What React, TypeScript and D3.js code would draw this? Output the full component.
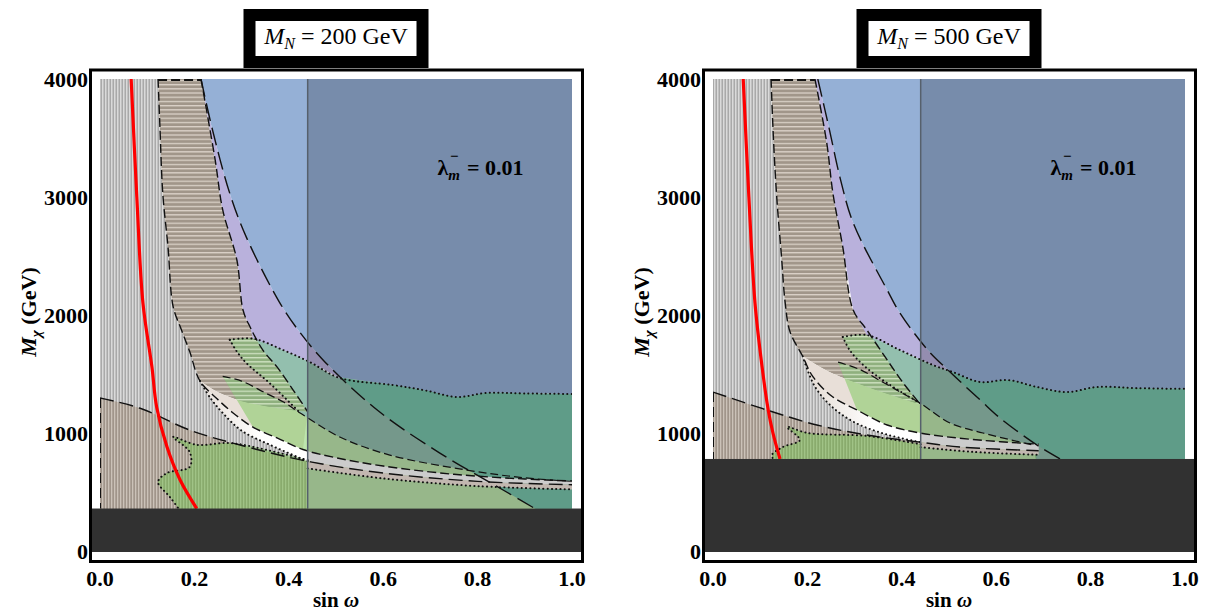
import React from 'react';
import * as d3 from 'd3';

type Pt = [number, number];

const X_TICKS = [0, 0.2, 0.4, 0.6, 0.8, 1.0];
const Y_TICKS = [0, 1000, 2000, 3000, 4000];
const MN_VALUES = ['200', '500'];
const LAMBDA_VALUE = '0.01';
const SIN_CUT = 0.44;
const DARK_TOP = [360, 780];

// ---------- M_N = 200 GeV ----------
const RED_200: Pt[] = [[0.066, 4000], [0.078, 3000], [0.091, 2100], [0.11, 1560], [0.12, 1220], [0.142, 881], [0.17, 600], [0.205, 360]];
const C1_200: Pt[] = [[0.123, 4000], [0.127, 3590], [0.133, 3030], [0.144, 2580], [0.155, 2070], [0.172, 1880], [0.19, 1690], [0.212, 1440], [0.248, 1290], [0.282, 1170], [0.324, 1050], [0.375, 958], [0.43, 860], [0.5, 790], [0.6, 720], [0.75, 650], [0.9, 610], [1.02, 590]];
const C2_200: Pt[] = [[0.214, 4000], [0.244, 3314], [0.26, 2890], [0.29, 2466], [0.303, 2042], [0.318, 1898], [0.345, 1703], [0.375, 1560], [0.41, 1360], [0.44, 1180]];
const TB_200: Pt[] = [[0.212, 1440], [0.25, 1345], [0.3, 1270], [0.37, 1215], [0.44, 1180]];
const L_200: Pt[] = [[0.214, 4000], [0.237, 3590], [0.275, 3030], [0.31, 2660], [0.38, 2110], [0.424, 1850], [0.477, 1600], [0.59, 1186], [0.72, 830], [0.854, 517], [0.93, 340]];
const DT_200: Pt[] = [[0.275, 1790], [0.324, 1800], [0.388, 1703], [0.445, 1600], [0.508, 1466], [0.62, 1407], [0.69, 1360], [0.756, 1305], [0.82, 1340], [0.9, 1335], [1.02, 1330]];
const GL_200: Pt[] = [[0.275, 1790], [0.29, 1690], [0.31, 1593], [0.36, 1420], [0.424, 1170]];
const S_200: Pt[] = [[0.26, 1480], [0.3, 1440], [0.35, 1340], [0.39, 1260], [0.424, 1170], [0.508, 966], [0.614, 813], [0.777, 686], [0.9, 620], [1.02, 585]];
const D_200: Pt[] = [[0, 1297], [0.085, 1210], [0.19, 1025], [0.297, 898], [0.44, 760], [0.6, 661], [0.8, 590], [1.02, 560]];
const DLOW_200: Pt[] = [[0.44, 700], [0.6, 615], [0.8, 550], [1.02, 520]];
const PBL_200: Pt[] = [[0.212, 1440], [0.235, 1290], [0.26, 1170], [0.3, 1020], [0.36, 900], [0.44, 760]];
const YL_200: Pt[] = [[0.44, 770], [0.36, 850], [0.275, 915], [0.205, 900], [0.155, 966], [0.19, 839], [0.19, 712], [0.142, 661], [0.123, 585], [0.148, 458], [0.17, 340]];
const LJ_200: Pt = [0.51, 1470];
const YR_200: Pt[] = [[1.02, 340]];
const GC_200: Pt[] = [];
const YC_200 = 0.32;

// ---------- M_N = 500 GeV ----------
const RED_500: Pt[] = [[0.064, 4000], [0.076, 3000], [0.089, 2100], [0.104, 1560], [0.117, 1195], [0.127, 1000], [0.142, 780]];
const C1_500: Pt[] = [[0.123, 4000], [0.128, 3500], [0.135, 3000], [0.145, 2500], [0.153, 2100], [0.163, 1860], [0.19, 1650], [0.212, 1475], [0.254, 1305], [0.305, 1195], [0.369, 1068], [0.439, 1000], [0.55, 945], [0.69, 905]];
const C2_500: Pt[] = [[0.216, 4000], [0.241, 3458], [0.254, 3034], [0.275, 2576], [0.297, 2042], [0.326, 1873], [0.369, 1619], [0.403, 1424], [0.44, 1240]];
const TB_500: Pt[] = [[0.19, 1650], [0.24, 1530], [0.3, 1430], [0.37, 1330], [0.44, 1240]];
const L_500: Pt[] = [[0.222, 4000], [0.245, 3600], [0.27, 3150], [0.297, 2780], [0.369, 2212], [0.396, 2017], [0.455, 1703], [0.5, 1525], [0.566, 1280], [0.608, 1127], [0.693, 881], [0.745, 760]];
const DT_500: Pt[] = [[0.275, 1814], [0.326, 1830], [0.396, 1703], [0.466, 1576], [0.508, 1517], [0.566, 1432], [0.625, 1449], [0.686, 1390], [0.75, 1347], [0.814, 1390], [0.9, 1380], [1.02, 1373]];
const GL_500: Pt[] = [[0.275, 1814], [0.29, 1700], [0.32, 1570], [0.37, 1420], [0.44, 1250]];
const S_500: Pt[] = [[0.265, 1600], [0.31, 1540], [0.36, 1430], [0.4, 1340], [0.44, 1250], [0.502, 1085], [0.572, 1000], [0.678, 898]];
const D_500: Pt[] = [[0, 1347], [0.114, 1195], [0.22, 1068], [0.326, 983], [0.44, 922], [0.523, 881], [0.69, 850]];
const DLOW_500: Pt[] = [[0.44, 880], [0.55, 840], [0.69, 815]];
const PBL_500: Pt[] = [[0.19, 1650], [0.215, 1400], [0.25, 1230], [0.3, 1090], [0.37, 985], [0.44, 922]];
const YL_500: Pt[] = [[0.44, 905], [0.326, 975], [0.2, 1000], [0.157, 1051], [0.184, 941], [0.148, 881], [0.125, 814], [0.13, 760]];
const LJ_500: Pt = [0.5, 1525];
const YR_500: Pt[] = [[0.685, 898], [0.685, 760]];
const GC_500: Pt[] = [[1.02, 760], [0.685, 760]];
const YC_500 = 0.3;

const PANELS = [
  { mn: MN_VALUES[0], dark: DARK_TOP[0], red: RED_200, c1: C1_200, c2: C2_200, tb: TB_200, L: L_200, dt: DT_200, gl: GL_200, s: S_200, d: D_200, dlow: DLOW_200, pbl: PBL_200, yl: YL_200, lj: LJ_200, yr: YR_200, gc: GC_200, yc: YC_200 },
  { mn: MN_VALUES[1], dark: DARK_TOP[1], red: RED_500, c1: C1_500, c2: C2_500, tb: TB_500, L: L_500, dt: DT_500, gl: GL_500, s: S_500, d: D_500, dlow: DLOW_500, pbl: PBL_500, yl: YL_500, lj: LJ_500, yr: YR_500, gc: GC_500, yc: YC_500 },
];

const PANEL_X0 = [100, 713];
const PLOT_W = 472;
const Y_RANGE: [number, number] = [551, 79];
const FONT = '"Liberation Serif", "Times New Roman", serif';
const INK = '#111';

function Panel({ p, i }: { p: any; i: number }) {
  const x0 = PANEL_X0[i];
  const xs = d3.scaleLinear().domain([0, 1]).range([x0, x0 + PLOT_W]);
  const ys = d3.scaleLinear().domain([0, 4000]).range(Y_RANGE);
  const smooth = d3.line<Pt>().x(d => xs(d[0])).y(d => ys(d[1])).curve(d3.curveCatmullRom.alpha(0.5));
  const poly = (...segs: Pt[][]) => {
    let out = '';
    segs.filter(s => s.length > 0).forEach(s => {
      if (s.length === 1) out += (out ? 'L' : 'M') + xs(s[0][0]) + ',' + ys(s[0][1]);
      else {
        const d = smooth(s) as string;
        out += out ? 'L' + d.slice(1) : d;
      }
    });
    return out + 'Z';
  };
  const rev = (a: Pt[]) => [...a].reverse();
  const wx = (a: Pt[], lo: number, hi: number) => a.filter(d => d[0] >= lo && d[0] <= hi);
  const J: Pt = p.tb[0];
  const dk = p.dark - 30;
  const c1Upper = p.c1.filter((d: Pt) => d[0] <= J[0]);
  const c1Lower = p.c1.filter((d: Pt) => d[0] >= J[0]);
  const LJ: Pt = p.lj;
  const glEnd = p.gl[p.gl.length - 1];

  const V = poly([[0, dk], [0, 4000]], c1Upper, p.pbl, [[SIN_CUT, dk]]);
  const T = poly(c1Upper, p.tb, rev(p.c2));
  const B = poly([[0, dk], [0, p.d[0][1]]], wx(p.d, 0, SIN_CUT), [[SIN_CUT, dk]]);
  const PP = poly(p.tb, rev(wx(c1Lower, J[0], SIN_CUT)));
  const G = poly(p.dt, p.gc, rev(p.s.filter((d: Pt) => d[0] >= glEnd[0])), rev(p.gl));
  const Y = poly(p.s, p.yr, rev(p.yl), rev(wx(c1Lower, p.yc, SIN_CUT)));
  const LAV = poly(p.c2.filter((d: Pt) => d[1] > p.dt[1][1] + 50), wx(p.dt, p.dt[1][0], LJ[0] - 0.001), [LJ], rev(p.L.filter((d: Pt) => d[1] > LJ[1] + 1)));
  const BLUE = poly(p.L.filter((d: Pt) => d[1] > LJ[1]), [LJ], p.dt.filter((d: Pt) => d[0] > LJ[0]), [[1.02, 4000]]);
  const TEAL = poly([LJ], p.dt.filter((d: Pt) => d[0] > LJ[0]), [[1.02, dk]], rev(p.L.filter((d: Pt) => d[1] < LJ[1])));
  const PB = poly(c1Lower, rev(wx(p.d, SIN_CUT, 2)), rev(p.pbl));
  const PINK = poly(wx(p.d, SIN_CUT, 2), rev(p.dlow));

  const dash = { fill: 'none', stroke: INK, strokeWidth: 1.4 } as any;
  const dotted = { fill: 'none', stroke: INK, strokeWidth: 2, strokeDasharray: '0.1 4.2', strokeLinecap: 'round' } as any;
  const cx = x0 + PLOT_W / 2;
  const yTop = ys(4000);
  const yDark = ys(p.dark);

  return (
    <g>
      <defs>
        <clipPath id={`clip${i}`}>
          <rect x={xs(0)} y={yTop} width={PLOT_W} height={yDark - yTop + 1} />
        </clipPath>
        <clipPath id={`tclip${i}`}>
          <path d={T} />
        </clipPath>
        <linearGradient id={`pbg${i}`} gradientUnits="userSpaceOnUse" x1={xs(0.2)} y1={0} x2={xs(0.34)} y2={0}>
          <stop offset="0" stopColor="#e4dbd3" />
          <stop offset="1" stopColor="#ffffff" />
        </linearGradient>
      </defs>
      {/* frame */}
      <rect x={x0 - 9.5} y={70} width={PLOT_W + 20} height={491.5} fill="#fff" stroke="#000" strokeWidth={3} />
      <g clipPath={`url(#clip${i})`}>
        <path d={V} fill="url(#patV)" />
        <path d={T} fill="url(#patT)" />
        <path d={B} fill="url(#patB)" />
        <path d={PP} fill="#e8dfd8" />
        <path d={G} fill="#93bfae" />
        <path d={Y} fill="rgb(108,197,73)" fillOpacity={0.45} />
        <g clipPath={`url(#tclip${i})`}>
          <path d={G} fill="url(#patGH)" />
          <path d={Y} fill="url(#patGH)" />
        </g>
        <path d={LAV} fill="#b9b1dc" />
        <path d={BLUE} fill="#95b0d6" />
        <path d={TEAL} fill="#77c3aa" />
        <path d={PB} fill={`url(#pbg${i})`} />
        <path d={PINK} fill="#f3e5dc" />
        <rect x={xs(SIN_CUT)} y={yTop} width={xs(1) - xs(SIN_CUT)} height={yDark - yTop} fill="#000" fillOpacity={0.2} />
        {/* boundary lines */}
        <path d={smooth(p.c1) as string} {...dash} strokeDasharray="9 4" />
        <path d={smooth(p.c2) as string} {...dash} strokeDasharray="9 4" />
        <path d={smooth(p.L) as string} {...dash} strokeDasharray="18 7" />
        <path d={smooth(p.d) as string} {...dash} strokeDasharray="14 6" />
        <path d={smooth(p.s) as string} {...dash} strokeDasharray="8 4" strokeWidth={1.2} />
        <path d={smooth(p.dt) as string} {...dotted} />
        <path d={smooth(p.gl) as string} {...dotted} />
        <path d={smooth(p.yl) as string} {...dotted} />
        <path d={smooth(p.pbl) as string} {...dotted} />
        <path d={smooth(p.dlow) as string} {...dotted} />
        <line x1={xs(0)} x2={xs(0)} y1={ys(p.d[0][1])} y2={yDark} {...dash} strokeDasharray="10 5" strokeWidth={2} />
        <line x1={xs(p.c1[0][0])} x2={xs(p.c2[0][0])} y1={yTop + 1} y2={yTop + 1} {...dash} strokeDasharray="9 4" strokeWidth={2} />
        <path d={smooth(p.red) as string} fill="none" stroke="#ff0000" strokeWidth={3.2} />
        <line x1={xs(SIN_CUT)} x2={xs(SIN_CUT)} y1={yTop} y2={yDark} stroke="#56606c" strokeWidth={1.5} />
      </g>
      {/* dark excluded band */}
      <rect x={x0 - 8} y={yDark} width={PLOT_W + 17} height={ys(0) + 1 - yDark} fill="#313131" />
      {/* lambda label */}
      <text x={xs(0.715)} y={175} fontFamily={FONT} fontWeight="bold" fontSize={22} fill="#000">
        <tspan>λ</tspan>
        <tspan fontSize={15} fontStyle="italic" dy={5}>m</tspan>
        <tspan fontSize={15} dx={-10} dy={-19}>−</tspan>
        <tspan dy={14} dx={3}>{' = ' + LAMBDA_VALUE}</tspan>
      </text>
      {/* title */}
      <rect x={cx - 86.5} y={15} width={173} height={47} fill="#fff" stroke="#000" strokeWidth={12} />
      <text x={cx} y={44} textAnchor="middle" fontFamily={FONT} fontSize={24} fill="#000">
        <tspan fontStyle="italic">M</tspan>
        <tspan fontStyle="italic" fontSize={16} dy={5}>N</tspan>
        <tspan dy={-5}>{' = ' + p.mn + ' GeV'}</tspan>
      </text>
      {/* axes labels */}
      {X_TICKS.map(t => (
        <text key={'x' + t} x={xs(t)} y={586} textAnchor="middle" fontFamily={FONT} fontWeight="bold" fontSize={22}>{t.toFixed(1)}</text>
      ))}
      {Y_TICKS.map(t => (
        <text key={'y' + t} x={x0 - 12} y={ys(t) + 8} textAnchor="end" fontFamily={FONT} fontWeight="bold" fontSize={22}>{t}</text>
      ))}
      <text x={cx} y={607} textAnchor="middle" fontFamily={FONT} fontWeight="bold" fontSize={21}>
        <tspan>sin </tspan>
        <tspan fontStyle="italic">ω</tspan>
      </text>
      <text transform={`translate(${x0 - 64},312) rotate(-90)`} textAnchor="middle" fontFamily={FONT} fontWeight="bold" fontSize={22}>
        <tspan fontStyle="italic">M</tspan>
        <tspan fontStyle="italic" fontSize={15} dy={5}>χ</tspan>
        <tspan dy={-5}> (GeV)</tspan>
      </text>
    </g>
  );
}

export default function App() {
  return (
    <svg width={1205} height={614} viewBox="0 0 1205 614" style={{ position: 'absolute', left: 0, top: 0, background: '#fff' }}>
      <defs>
        <pattern id="patV" patternUnits="userSpaceOnUse" width={3} height={8}>
          <rect width={3} height={8} fill="#a9a9a9" />
          <rect width={1.5} height={8} fill="#dadada" />
        </pattern>
        <pattern id="patT" patternUnits="userSpaceOnUse" width={8} height={4.2}>
          <rect width={8} height={4.2} fill="#a1968a" />
          <rect width={8} height={1.3} fill="#dbd2c9" />
        </pattern>
        <pattern id="patB" patternUnits="userSpaceOnUse" width={3} height={8}>
          <rect width={3} height={8} fill="#a0958a" />
          <rect width={1.3} height={8} fill="#cbc2b8" />
        </pattern>
        <pattern id="patGH" patternUnits="userSpaceOnUse" width={8} height={4.2}>
          <rect width={8} height={4.2} fill="#8fb07e" />
          <rect width={8} height={1.3} fill="#cfe2c2" />
        </pattern>
      </defs>
      <rect width={1205} height={614} fill="#fff" />
      {PANELS.map((p, i) => <Panel key={i} p={p} i={i} />)}
    </svg>
  );
}
